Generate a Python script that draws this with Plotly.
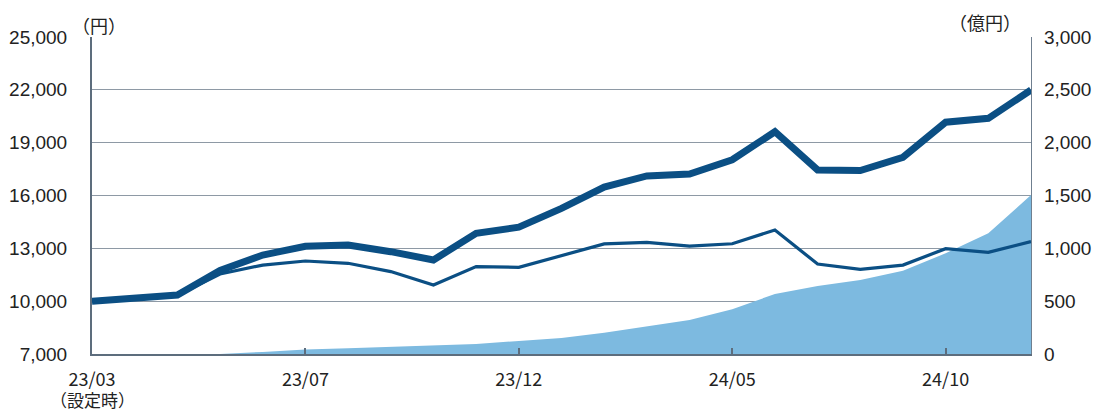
import plotly.graph_objects as go

# ---- data ----
months = ["設定時", "23/03", "23/04", "23/05", "23/06", "23/07", "23/08", "23/09",
          "23/10", "23/11", "23/12", "24/01", "24/02", "24/03", "24/04", "24/05",
          "24/06", "24/07", "24/08", "24/09", "24/10", "24/11", "24/12"]
nav_reinvested = [10000, 10220, 10350, 11750, 12620, 13120, 13190, 12810, 12340, 13850,
                  14200, 15270, 16480, 17110, 17220, 18030, 19620, 17450, 17420, 18170,
                  20160, 20380, 21990]
nav = [10000, 10200, 10330, 11540, 12050, 12280, 12150, 11680, 10920, 11960,
       11920, 12600, 13250, 13340, 13130, 13260, 14040, 12110, 11810, 12050,
       12980, 12770, 13380]
net_assets = [0, 0, 0, 0, 20, 42, 54, 66, 79, 95, 123, 151, 202, 259, 322, 423,
              568, 644, 700, 789, 953, 1142, 1505]
x_tick_vals = ["設定時", "23/07", "23/12", "24/05", "24/10"]
x_tick_text = ["23/03", "23/07", "23/12", "24/05", "24/10"]
launch_note = "（設定時）"
left_ticks = [7000, 10000, 13000, 16000, 19000, 22000, 25000]
right_ticks = [0, 500, 1000, 1500, 2000, 2500, 3000]

DARK = "#0b4f84"
AREA = "#7dbae0"
GRID = "#8e99a5"
AXIS = "#5d6d7d"
TXT = "#222222"

fig = go.Figure()
fig.add_trace(go.Scatter(x=months, y=net_assets, mode="lines", fill="tozeroy",
                         fillcolor=AREA, line=dict(width=0, color=AREA),
                         yaxis="y", showlegend=False, hoverinfo="skip"))
fig.add_trace(go.Scatter(x=months, y=nav, mode="lines",
                         line=dict(width=3.2, color=DARK), yaxis="y2", showlegend=False))
fig.add_trace(go.Scatter(x=months, y=nav_reinvested, mode="lines",
                         line=dict(width=7, color=DARK), yaxis="y2", showlegend=False))

fig.update_layout(
    width=1094, height=411,
    margin=dict(l=92, r=63, t=37, b=57),
    paper_bgcolor="white", plot_bgcolor="white",
    xaxis=dict(type="category", categoryorder="array", categoryarray=months,
               range=[0, len(months) - 1], tickmode="array",
               tickvals=x_tick_vals, ticktext=x_tick_text, automargin=False,
               ticks="inside", ticklen=6, tickcolor=AXIS, tickwidth=1.5,
               showline=True, linecolor=AXIS, linewidth=2, showgrid=False,
               zeroline=False, ticklabelstandoff=8,
               tickfont=dict(family="Noto Sans CJK JP", size=18, color=TXT)),
    yaxis=dict(side="right", range=[0, 3000], tickvals=right_ticks, automargin=False,
               tickformat=",", showgrid=True, gridcolor=GRID, gridwidth=1.3,
               showline=True, linecolor="#6f7f8f", linewidth=1.2,
               zeroline=False, ticks="", ticklabelstandoff=8,
               tickfont=dict(family="Liberation Sans, Arial", size=19, color=TXT)),
    yaxis2=dict(side="left", overlaying="y", range=[7000, 25000], tickvals=left_ticks,
                automargin=False,
                tickformat=",", showgrid=False, showline=True, linecolor=AXIS,
                linewidth=2, zeroline=False, ticks="", ticklabelstandoff=19,
                tickfont=dict(family="Liberation Sans, Arial", size=19, color=TXT)),
    annotations=[
        dict(text="（円）", xref="paper", yref="paper", x=0.0075, y=1.038,
             xanchor="center", yanchor="middle", showarrow=False,
             font=dict(family="Noto Sans CJK JP", size=18, color=TXT)),
        dict(text="（億円）", xref="paper", yref="paper", x=0.951, y=1.047,
             xanchor="center", yanchor="middle", showarrow=False,
             font=dict(family="Noto Sans CJK JP", size=18, color=TXT)),
        dict(text=launch_note, xref="x", yref="paper", x=months[0], y=-0.145,
             xanchor="center", yanchor="middle", showarrow=False, borderpad=0,
             font=dict(family="Noto Sans CJK JP", size=17, color=TXT)),
    ],
)

fig.write_html("out.html", post_script="document.body.style.margin='0';",
               config={"displayModeBar": False})
